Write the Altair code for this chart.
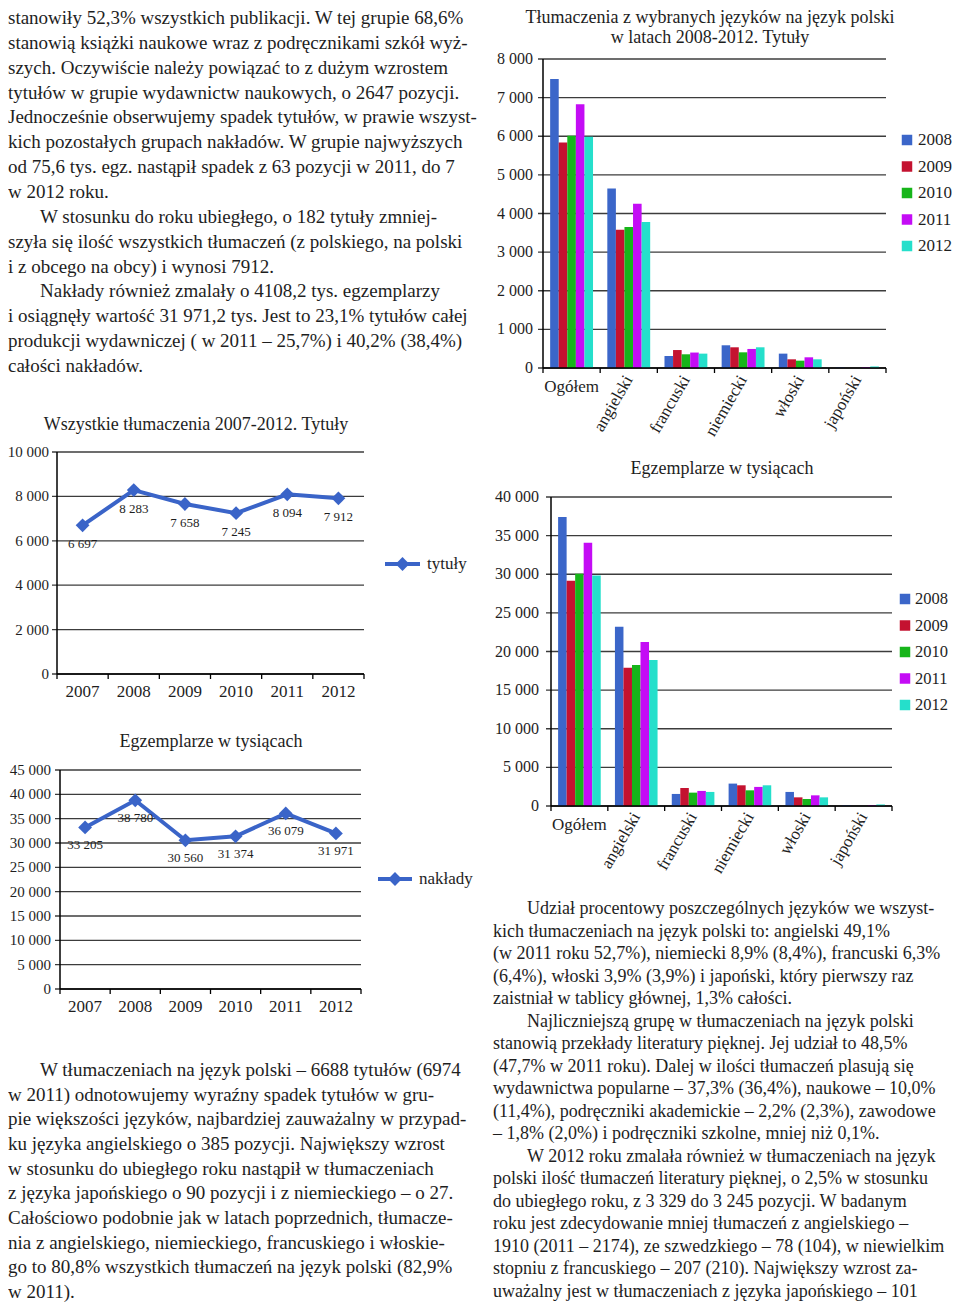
import altair as alt
import pandas as pd

FONT = "Liberation Serif"
INK = "#1e1e1e"
GRID = "#3c3c3c"

# ---------------- data ----------------
line_years = ["2007", "2008", "2009", "2010", "2011", "2012"]
tytuly = [6697, 8283, 7658, 7245, 8094, 7912]
naklady = [33205, 38780, 30560, 31374, 36079, 31971]

langs = ["Ogółem", "angielski", "francuski", "niemiecki", "włoski", "japoński"]
bar_years = ["2008", "2009", "2010", "2011", "2012"]
bar_colors = ["#3b66c9", "#c41230", "#17b51a", "#c40cf5", "#25dfcb"]

# titles (Tytuły), per language, years 2008..2012
tyt_ogolem = [7480, 5840, 6010, 6830, 5985]
tyt_angielski = [4650, 3580, 3650, 4255, 3780]
tyt_francuski = [310, 465, 355, 400, 372]
tyt_niemiecki = [588, 536, 406, 493, 536]
tyt_wloski = [372, 225, 190, 277, 225]
tyt_japonski = [15, 0, 0, 20, 40]

# copies in thousands (Egzemplarze), per language, years 2008..2012
egz_ogolem = [37400, 29150, 30050, 34080, 29840]
egz_angielski = [23220, 17900, 18250, 21230, 18900]
egz_francuski = [1560, 2330, 1730, 1950, 1820]
egz_niemiecki = [2900, 2680, 2030, 2470, 2680]
egz_wloski = [1820, 1120, 910, 1380, 1120]
egz_japonski = [80, 0, 0, 100, 200]

ticks_tyt_bar = [0, 1000, 2000, 3000, 4000, 5000, 6000, 7000, 8000]
ticks_egz_bar = [0, 5000, 10000, 15000, 20000, 25000, 30000, 35000, 40000]
ticks_tyt_line = [0, 2000, 4000, 6000, 8000, 10000]
ticks_egz_line = [0, 5000, 10000, 15000, 20000, 25000, 30000, 35000, 40000, 45000]

title_bar1 = ["Tłumaczenia z wybranych języków na język polski", "w latach 2008-2012. Tytuły"]
title_bar2 = ["Egzemplarze w tysiącach"]
title_line1 = ["Wszystkie tłumaczenia 2007-2012. Tytuły"]
title_line2 = ["Egzemplarze w tysiącach"]
legend_line1 = "tytuły"
legend_line2 = "nakłady"

text_top_left = [
    "stanowiły 52,3% wszystkich publikacji. W tej grupie 68,6%",
    "stanowią książki naukowe wraz z podręcznikami szkół wyż-",
    "szych. Oczywiście należy powiązać to z dużym wzrostem",
    "tytułów w grupie wydawnictw naukowych, o 2647 pozycji.",
    "Jednocześnie obserwujemy spadek tytułów, w prawie wszyst-",
    "kich pozostałych grupach nakładów. W grupie najwyższych",
    "od 75,6 tys. egz. nastąpił spadek z 63 pozycji w 2011, do 7",
    "w 2012 roku.",
    "W stosunku do roku ubiegłego, o 182 tytuły zmniej-",
    "szyła się ilość wszystkich tłumaczeń (z polskiego, na polski",
    "i z obcego na obcy) i wynosi 7912.",
    "Nakłady również zmalały o 4108,2 tys. egzemplarzy",
    "i osiągnęły wartość 31 971,2 tys. Jest to 23,1% tytułów całej",
    "produkcji wydawniczej ( w 2011 – 25,7%) i 40,2% (38,4%)",
    "całości nakładów.",
]
indent_top_left = [8, 11]

text_bottom_left = [
    "W tłumaczeniach na język polski – 6688 tytułów (6974",
    "w 2011) odnotowujemy wyraźny spadek tytułów w gru-",
    "pie większości języków, najbardziej zauważalny w przypad-",
    "ku języka angielskiego o 385 pozycji. Największy wzrost",
    "w stosunku do ubiegłego roku nastąpił w tłumaczeniach",
    "z języka japońskiego o 90 pozycji i z niemieckiego – o 27.",
    "Całościowo podobnie jak w latach poprzednich, tłumacze-",
    "nia z angielskiego, niemieckiego, francuskiego i włoskie-",
    "go to 80,8% wszystkich tłumaczeń na język polski (82,9%",
    "w 2011).",
]
indent_bottom_left = [0]

text_bottom_right = [
    "Udział procentowy poszczególnych języków we wszyst-",
    "kich tłumaczeniach na język polski to: angielski 49,1%",
    "(w 2011 roku 52,7%), niemiecki 8,9% (8,4%), francuski 6,3%",
    "(6,4%), włoski 3,9% (3,9%) i japoński, który pierwszy raz",
    "zaistniał w tablicy głównej, 1,3% całości.",
    "Najliczniejszą grupę w tłumaczeniach na język polski",
    "stanowią przekłady literatury pięknej. Jej udział to 48,5%",
    "(47,7% w 2011 roku). Dalej w ilości tłumaczeń plasują się",
    "wydawnictwa popularne – 37,3% (36,4%), naukowe – 10,0%",
    "(11,4%), podręczniki akademickie – 2,2% (2,3%), zawodowe",
    "– 1,8% (2,0%) i podręczniki szkolne, mniej niż 0,1%.",
    "W 2012 roku zmalała również w tłumaczeniach na język",
    "polski ilość tłumaczeń literatury pięknej, o 2,5% w stosunku",
    "do ubiegłego roku, z 3 329 do 3 245 pozycji. W badanym",
    "roku jest zdecydowanie mniej tłumaczeń z angielskiego –",
    "1910 (2011 – 2174), ze szwedzkiego – 78 (104), w niewielkim",
    "stopniu z francuskiego – 207 (210). Największy wzrost za-",
    "uważalny jest w tłumaczeniach z języka japońskiego – 101",
]
indent_bottom_right = [0, 5, 11]


def fmt(v):
    return f"{v:,}".replace(",", " ")


def text_block(lines, x, y0, y1, size, align="left", indents=(), indent_px=34):
    df = pd.DataFrame({
        "t": lines,
        "i": list(range(len(lines))),
        "ind": [1 if k in indents else 0 for k in range(len(lines))],
    })
    n = max(len(lines) - 1, 1)
    return alt.Chart(df).mark_text(
        align=align, baseline="middle", font=FONT, fontSize=size, color=INK
    ).encode(
        x=alt.X("ind:Q", scale=alt.Scale(domain=[0, 1], range=[x, x + indent_px], nice=False, zero=False), axis=None),
        y=alt.Y("i:Q", scale=alt.Scale(domain=[0, n], range=[y0, y1], nice=False, zero=False), axis=None),
        text="t:N",
    )


def y_axis_parts(ticks, yscale, L, R, lab_gap, size):
    tdf = pd.DataFrame({"v": ticks, "lab": [fmt(t) for t in ticks]})
    grid = alt.Chart(tdf).mark_rule(color=GRID, strokeWidth=1.3).encode(
        y=alt.Y("v:Q", scale=yscale, axis=None), x=alt.value(L - 5), x2=alt.value(R)
    )
    labs = alt.Chart(tdf).mark_text(
        align="right", baseline="middle", font=FONT, fontSize=size, color=INK
    ).encode(y=alt.Y("v:Q", scale=yscale, axis=None), x=alt.value(L - lab_gap), text="lab:N")
    adf = pd.DataFrame({"a": [ticks[-1]], "b": [0]})
    axis_line = alt.Chart(adf).mark_rule(color="#000", strokeWidth=1.5).encode(
        y=alt.Y("a:Q", scale=yscale, axis=None), y2="b:Q", x=alt.value(L)
    )
    base = alt.Chart(pd.DataFrame({"b": [0]})).mark_rule(color="#000", strokeWidth=1.5).encode(
        y=alt.Y("b:Q", scale=yscale, axis=None), x=alt.value(L), x2=alt.value(R)
    )
    return [grid, labs, axis_line, base]


def x_ticks(n, L, R, B):
    df = pd.DataFrame({"k": list(range(n + 1))})
    return alt.Chart(df).mark_rule(color="#000", strokeWidth=1.3).encode(
        x=alt.X("k:Q", scale=alt.Scale(domain=[0, n], range=[L, R], nice=False, zero=False), axis=None),
        y=alt.value(B),
        y2=alt.value(B + 5),
    )


def bar_panel(vals, ticks, L, R, T, B, lab0_dy, labr_dy, lab_gap):
    rows = []
    for lang, vv in zip(langs, vals):
        for yr, v in zip(bar_years, vv):
            rows.append({"lang": lang, "year": yr, "v": v})
    df = pd.DataFrame(rows)
    yscale = alt.Scale(domain=[0, ticks[-1]], range=[B, T], nice=False, zero=False)
    xscale = alt.Scale(domain=langs, range=[L, R], paddingInner=0.25, paddingOuter=0.125)
    xenc = alt.X("lang:N", scale=xscale, axis=None, sort=langs)
    parts = y_axis_parts(ticks, yscale, L, R, lab_gap, 16)
    bars = alt.Chart(df).mark_bar().encode(
        x=xenc,
        xOffset=alt.XOffset("year:N", scale=alt.Scale(domain=bar_years, paddingInner=0, paddingOuter=0), sort=bar_years),
        y=alt.Y("v:Q", scale=yscale, axis=None),
        color=alt.Color("year:N", scale=alt.Scale(domain=bar_years, range=bar_colors), legend=None),
    )
    lab0 = alt.Chart(pd.DataFrame({"lang": langs[:1]})).mark_text(
        align="center", baseline="middle", font=FONT, fontSize=17, color=INK
    ).encode(x=xenc, y=alt.value(B + lab0_dy), text="lang:N")
    labr = alt.Chart(pd.DataFrame({"lang": langs[1:]})).mark_text(
        align="right", baseline="middle", font=FONT, fontSize=17, color=INK, angle=300
    ).encode(x=xenc, y=alt.value(B + labr_dy), text="lang:N")
    return alt.layer(parts[0], bars, parts[1], parts[2], parts[3], lab0, labr)


def bar_legend(sq_x, tx_x, y0, y1, size=17):
    df = pd.DataFrame({"year": bar_years})
    ysc = alt.Scale(type="point", domain=bar_years, range=[y0, y1], padding=0)
    sq = alt.Chart(df).mark_square(size=110, opacity=1).encode(
        x=alt.value(sq_x),
        y=alt.Y("year:N", scale=ysc, axis=None),
        color=alt.Color("year:N", scale=alt.Scale(domain=bar_years, range=bar_colors), legend=None),
    )
    tx = alt.Chart(df).mark_text(align="left", baseline="middle", font=FONT, fontSize=size, color=INK).encode(
        x=alt.value(tx_x), y=alt.Y("year:N", scale=ysc, axis=None), text="year:N"
    )
    return alt.layer(sq, tx)


LINE_BLUE = "#3a64c8"


def line_panel(vals, ticks, L, R, T, B, lab_gap, lab_dy):
    df = pd.DataFrame({"yr": line_years, "v": vals, "lab": [fmt(v) for v in vals]})
    yscale = alt.Scale(domain=[0, ticks[-1]], range=[B, T], nice=False, zero=False)
    xscale = alt.Scale(type="point", domain=line_years, range=[L, R], padding=0.5)
    xenc = alt.X("yr:N", scale=xscale, axis=None, sort=line_years)
    parts = y_axis_parts(ticks, yscale, L, R, lab_gap, 15)
    line = alt.Chart(df).mark_line(color=LINE_BLUE, strokeWidth=4).encode(
        x=xenc, y=alt.Y("v:Q", scale=yscale, axis=None)
    )
    pts = alt.Chart(df).mark_point(shape="diamond", filled=True, size=190, color=LINE_BLUE, opacity=1).encode(
        x=xenc, y=alt.Y("v:Q", scale=yscale, axis=None)
    )
    labs = alt.Chart(df).mark_text(
        align="center", baseline="middle", font=FONT, fontSize=13, color=INK, dy=lab_dy
    ).encode(x=xenc, y=alt.Y("v:Q", scale=yscale, axis=None), text="lab:N")
    xl = alt.Chart(df).mark_text(align="center", baseline="middle", font=FONT, fontSize=17, color=INK).encode(
        x=xenc, y=alt.value(B + 18), text="yr:N"
    )
    return alt.layer(parts[0], parts[1], parts[2], parts[3], line, pts, labs, xl)


def line_legend(label, x0, x1, y):
    d = pd.DataFrame({"t": [label]})
    ln = alt.Chart(d).mark_rule(color=LINE_BLUE, strokeWidth=4).encode(
        x=alt.value(x0), x2=alt.value(x1), y=alt.value(y)
    )
    pt = alt.Chart(d).mark_point(shape="diamond", filled=True, size=190, color=LINE_BLUE, opacity=1).encode(
        x=alt.value((x0 + x1) / 2), y=alt.value(y)
    )
    tx = alt.Chart(d).mark_text(align="left", baseline="middle", font=FONT, fontSize=17, color=INK).encode(
        x=alt.value(x1 + 7), y=alt.value(y), text="t:N"
    )
    return alt.layer(ln, pt, tx)


tyt_vals = [tyt_ogolem, tyt_angielski, tyt_francuski, tyt_niemiecki, tyt_wloski, tyt_japonski]
egz_vals = [egz_ogolem, egz_angielski, egz_francuski, egz_niemiecki, egz_wloski, egz_japonski]

layers = [
    text_block(text_top_left, 0, 10, 358, 19, indents=indent_top_left, indent_px=32),
    text_block(text_bottom_left, 0, 1062, 1284, 19, indents=indent_bottom_left, indent_px=32),
    text_block(text_bottom_right, 485, 901, 1284, 18, indents=indent_bottom_right, indent_px=34),
    # bar chart 1
    text_block(title_bar1, 702, 10, 30, 18, align="center"),
    bar_panel(tyt_vals, ticks_tyt_bar, 535, 878, 51, 360, 19, 9, 10),
    x_ticks(6, 535, 878, 360),
    bar_legend(899, 910, 132, 238),
    # bar chart 2
    text_block(title_bar2, 714, 461, 461, 18, align="center"),
    bar_panel(egz_vals, ticks_egz_bar, 543, 884, 489, 798, 19, 8, 12),
    x_ticks(6, 543, 884, 798),
    bar_legend(897, 907, 591, 697, 16.5),
    # line chart 1
    text_block(title_line1, 188, 417, 417, 18, align="center"),
    line_panel(tytuly, ticks_tyt_line, 49, 356, 444, 666, 8, 19),
    x_ticks(6, 49, 356, 666),
    line_legend(legend_line1, 377, 412, 556),
    # line chart 2
    text_block(title_line2, 203, 734, 734, 18, align="center"),
    line_panel(naklady, ticks_egz_line, 52, 353, 762, 981, 9, 18),
    x_ticks(6, 52, 353, 981),
    line_legend(legend_line2, 370, 404, 871),
]

chart = alt.layer(*layers).resolve_scale(
    x="independent", y="independent", color="independent", xOffset="independent"
).properties(
    width=944, height=1296, autosize=alt.AutoSizeParams(type="none"), padding=0, background="white"
).configure_view(stroke=None)

chart.save("out.html", embed_options={"renderer": "svg", "actions": False})
